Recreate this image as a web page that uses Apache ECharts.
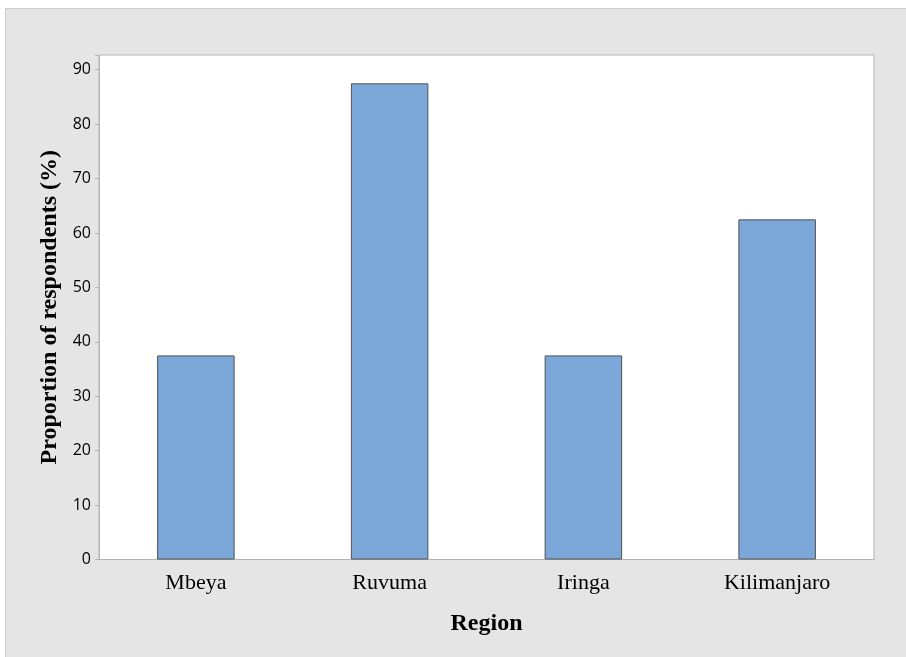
<!DOCTYPE html>
<html><head><meta charset="utf-8">
<script src="https://cdn.jsdelivr.net/npm/echarts@6/dist/echarts.min.js"></script>
<style>html,body{margin:0;padding:0;background:#fff}#c{width:906px;height:657px}</style>
</head><body><div id="c"></div>
<script>
const categories = ['Mbeya', 'Ruvuma', 'Iringa', 'Kilimanjaro'];
const values = [37.5, 87.5, 37.5, 62.5];
const yTicks = [0, 10, 20, 30, 40, 50, 60, 70, 80, 90];

const chart = echarts.init(document.getElementById('c'), null, {renderer: 'canvas'});
chart.setOption({
  backgroundColor: '#ffffff',
  animation: false,
  graphic: [{
    type: 'rect', z: -10, silent: true,
    shape: {x: 5.5, y: 8.5, width: 910, height: 660},
    style: {fill: '#e5e5e5', stroke: '#cdcdcd', lineWidth: 1}
  }],
  grid: {
    left: 99, right: 32, top: 55, bottom: 97.5,
    show: true, backgroundColor: '#ffffff', borderColor: '#b4b4b4', borderWidth: 1
  },
  xAxis: {
    type: 'category',
    data: categories,
    name: 'Region',
    nameLocation: 'middle',
    nameGap: 52,
    nameTextStyle: {fontFamily: 'Liberation Serif', fontWeight: 'bold', fontSize: 24, color: '#000'},
    axisLine: {lineStyle: {color: '#b4b4b4'}},
    axisTick: {alignWithLabel: true, length: 5, lineStyle: {color: '#b4b4b4'}},
    axisLabel: {fontFamily: 'Liberation Serif', fontSize: 22, color: '#000', margin: 13}
  },
  yAxis: {
    type: 'value',
    min: 0, max: 92.7, interval: 10,
    name: 'Proportion of respondents (%)',
    nameLocation: 'middle',
    nameGap: 35,
    nameTextStyle: {fontFamily: 'Liberation Serif', fontWeight: 'bold', fontSize: 24, color: '#000'},
    axisLine: {show: true, lineStyle: {color: '#b4b4b4'}},
    axisTick: {show: true, length: 4, lineStyle: {color: '#b4b4b4'}},
    splitLine: {show: false},
    axisLabel: {
      fontFamily: 'Open Sans', fontSize: 16, color: '#000', margin: 8,
      formatter: v => yTicks.includes(v) ? String(v) : ''
    }
  },
  series: [{
    type: 'bar',
    data: values,
    barWidth: '40%',
    itemStyle: {color: '#7ba7d9', borderColor: '#4f5257', borderWidth: 1}
  }]
});
</script></body></html>
